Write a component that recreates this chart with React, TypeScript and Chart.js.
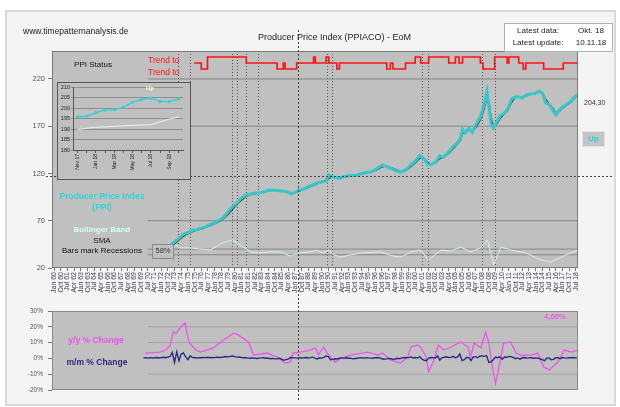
import React, { useEffect, useRef } from "react";
import { Chart, registerables } from "chart.js";

Chart.register(...registerables);

const FONT = "'Liberation Sans', Arial, Helvetica, sans-serif";

// ---------- shared time axis ----------
const X_MIN = 1959.76;
const X_MAX = 2018.75;
const REF_START = 1970.5;
const REF_END = 2018.75;

const X_TICK_FIRST = 1960;
const X_TICK_STEP = 0.75;
const xTickLabels = [
  "Jan 60", "Oct 60", "Jul 61", "Apr 62", "Jan 63", "Oct 63", "Jul 64", "Apr 65",
  "Jan 66", "Oct 66", "Jul 67", "Apr 68", "Jan 69", "Oct 69", "Jul 70", "Apr 71",
  "Jan 72", "Oct 72", "Jul 73", "Apr 74", "Jan 75", "Oct 75", "Jul 76", "Apr 77",
  "Jan 78", "Oct 78", "Jul 79", "Apr 80", "Jan 81", "Oct 81", "Jul 82", "Apr 83",
  "Jan 84", "Oct 84", "Jul 85", "Apr 86", "Jan 87", "Oct 87", "Jul 88", "Apr 89",
  "Jan 90", "Oct 90", "Jul 91", "Apr 92", "Jan 93", "Oct 93", "Jul 94", "Apr 95",
  "Jan 96", "Oct 96", "Jul 97", "Apr 98", "Jan 99", "Oct 99", "Jul 00", "Apr 01",
  "Jan 02", "Oct 02", "Jul 03", "Apr 04", "Jan 05", "Oct 05", "Jul 06", "Apr 07",
  "Jan 08", "Oct 08", "Jul 09", "Apr 10", "Jan 11", "Oct 11", "Jul 12", "Apr 13",
  "Jan 14", "Oct 14", "Jul 15", "Apr 16", "Jan 17", "Oct 17", "Jul 18",
];

// ---------- main chart ----------
const mainYTicks = [20, 70, 120, 170, 220];
const mainRefLevels = [220, 170, 70, 40, 34];
const recessions: [number, number][] = [
  [1973.85, 1975.2],
  [1980.0, 1980.5],
  [1981.55, 1982.85],
  [1990.55, 1991.15],
  [2001.3, 2001.9],
  [2008.0, 2009.45],
];
const crosshair = { year: 1987.3, value: 117 };

const ppiPoints: [number, number][] = [
  [1971.2, 39.5], [1971.5, 39.9], [1972.0, 40.6], [1972.5, 41.6],
  [1973.0, 43.2], [1973.4, 47.0], [1973.7, 49.0], [1974.0, 51.5], [1974.5, 56.0], [1975.0, 57.5],
  [1975.6, 60.0], [1976.0, 60.6], [1976.5, 62.0], [1977.0, 63.8], [1977.5, 66.0], [1978.0, 67.5],
  [1978.5, 70.5], [1979.0, 73.5], [1979.5, 79.5], [1980.0, 85.0], [1980.5, 89.0], [1981.0, 94.0],
  [1981.5, 97.0], [1982.0, 98.0], [1982.5, 99.0], [1983.0, 99.5], [1983.5, 100.5], [1984.0, 102.0],
  [1984.6, 102.5], [1985.0, 102.0], [1985.5, 101.5], [1986.0, 101.0], [1986.6, 98.5], [1987.0, 100.0],
  [1987.5, 102.5], [1988.0, 103.5], [1988.5, 106.0], [1989.0, 108.0], [1989.5, 110.0], [1990.0, 111.0],
  [1990.5, 112.0], [1990.8, 118.5], [1991.2, 116.5], [1991.6, 115.5], [1992.0, 115.0], [1992.5, 116.5],
  [1993.0, 117.5], [1993.5, 118.0], [1994.0, 118.5], [1994.5, 120.0], [1995.0, 121.0], [1995.5, 121.6],
  [1996.0, 124.0], [1996.8, 129.0], [1997.3, 127.0], [1997.8, 125.5], [1998.4, 122.5], [1998.9, 121.5],
  [1999.5, 124.5], [2000.0, 129.0], [2000.5, 133.0], [2001.0, 139.0], [2001.5, 135.0], [2001.9, 129.0],
  [2002.3, 129.5], [2002.8, 132.0], [2003.2, 138.5], [2003.7, 137.5], [2004.2, 142.0], [2004.7, 148.0],
  [2005.2, 152.0], [2005.6, 158.0], [2005.8, 167.0], [2006.1, 163.0], [2006.5, 167.5], [2006.9, 163.5],
  [2007.3, 172.0], [2007.8, 180.0], [2008.2, 192.0], [2008.55, 206.5], [2008.8, 188.0], [2009.0, 172.0],
  [2009.25, 168.0], [2009.6, 174.0], [2010.0, 181.0], [2010.5, 184.0], [2010.9, 189.0], [2011.3, 199.0],
  [2011.7, 201.0], [2012.0, 201.5], [2012.5, 199.5], [2012.9, 203.0], [2013.4, 204.0], [2013.9, 204.5],
  [2014.4, 207.0], [2014.8, 204.5], [2015.1, 195.0], [2015.5, 193.0], [2015.9, 187.0], [2016.3, 182.0],
  [2016.6, 186.5], [2017.0, 190.5], [2017.5, 193.5], [2017.9, 196.0], [2018.3, 200.5], [2018.75, 204.3],
];

const smaPoints: [number, number][] = [
  [1971.2, 39.0], [1971.5, 39.4], [1972.0, 40.1], [1972.5, 41.0],
  [1973.0, 42.2], [1973.4, 44.5], [1973.7, 47.0], [1974.0, 49.5], [1974.5, 53.5], [1975.0, 56.2],
  [1975.6, 58.6], [1976.0, 60.0], [1976.5, 61.2], [1977.0, 62.8], [1977.5, 64.8], [1978.0, 66.6],
  [1978.5, 69.0], [1979.0, 72.0], [1979.5, 76.5], [1980.0, 82.0], [1980.5, 87.0], [1981.0, 91.5],
  [1981.5, 95.5], [1982.0, 97.5], [1982.5, 98.5], [1983.0, 99.2], [1983.5, 100.0], [1984.0, 101.2],
  [1984.6, 102.2], [1985.0, 102.2], [1985.5, 101.8], [1986.0, 101.2], [1986.6, 99.5], [1987.0, 99.4],
  [1987.5, 101.2], [1988.0, 103.0], [1988.5, 105.0], [1989.0, 107.0], [1989.5, 109.2], [1990.0, 110.5],
  [1990.5, 111.5], [1990.8, 114.5], [1991.2, 116.5], [1991.6, 116.0], [1992.0, 115.3], [1992.5, 115.8],
  [1993.0, 117.0], [1993.5, 117.8], [1994.0, 118.3], [1994.5, 119.3], [1995.0, 120.5], [1995.5, 121.3],
  [1996.0, 123.0], [1996.8, 127.0], [1997.3, 127.8], [1997.8, 126.3], [1998.4, 123.8], [1998.9, 122.0],
  [1999.5, 123.2], [2000.0, 127.0], [2000.5, 131.0], [2001.0, 136.0], [2001.5, 136.0], [2001.9, 131.5],
  [2002.3, 129.3], [2002.8, 131.0], [2003.2, 135.5], [2003.7, 137.5], [2004.2, 140.5], [2004.7, 145.5],
  [2005.2, 150.5], [2005.6, 155.5], [2005.8, 162.0], [2006.1, 164.0], [2006.5, 166.0], [2006.9, 165.0],
  [2007.3, 168.5], [2007.8, 176.5], [2008.2, 187.0], [2008.55, 200.0], [2008.8, 195.0], [2009.0, 180.0],
  [2009.25, 170.0], [2009.6, 171.5], [2010.0, 178.0], [2010.5, 183.0], [2010.9, 187.0], [2011.3, 195.0],
  [2011.7, 200.5], [2012.0, 201.3], [2012.5, 200.3], [2012.9, 201.8], [2013.4, 203.6], [2013.9, 204.3],
  [2014.4, 206.0], [2014.8, 205.5], [2015.1, 199.0], [2015.5, 194.0], [2015.9, 189.5], [2016.3, 184.0],
  [2016.6, 185.0], [2017.0, 189.0], [2017.5, 192.5], [2017.9, 195.0], [2018.3, 199.0], [2018.75, 203.0],
];

const bandPoints: [number, number][] = [
  [1971.5, 38.5], [1972.5, 39.5], [1973.35, 46.5], [1974.1, 41.2], [1975.3, 41.2],
  [1977.5, 39], [1978.85, 46.5], [1980.0, 49.6], [1980.9, 44.3], [1982.0, 37], [1983.1, 35.9],
  [1984.25, 37], [1985.4, 37], [1986.5, 32.7], [1987.6, 35.9], [1988.75, 37], [1989.4, 39],
  [1990.1, 35.9], [1990.8, 39], [1991.4, 33.8], [1992.1, 31.6], [1994.4, 35.9], [1996.6, 37],
  [1998.0, 32.7], [1998.9, 31.6], [2000.0, 37], [2001.1, 39], [2002.0, 28.5], [2003.4, 39],
  [2004.5, 38], [2005.6, 42.2], [2006.7, 37], [2007.8, 41.2], [2008.6, 49.6], [2009.3, 23.2],
  [2010.1, 42.2], [2011.2, 39], [2012.9, 35.9], [2014.6, 28.5], [2015.7, 26.3], [2017.4, 33.8],
  [2018.75, 39],
];

// trend level: 1 = up, 0 = sideways, -1 = down (step starts at the given year)
const trendPoints: [number, number][] = [
  [1975.7, 0], [1976.5, -1], [1977.2, 1], [1981.55, 0], [1985.0, -1], [1985.7, 0], [1985.9, -1],
  [1987.2, 0], [1989.1, 1], [1989.3, 0], [1990.5, 1], [1990.8, 0], [1991.7, -1], [1992.0, 0],
  [1997.3, -1], [1997.7, 0], [1998.0, -1], [1999.4, 0], [2000.5, 1], [2001.1, 0], [2002.0, 1],
  [2004.25, 0], [2005.0, 1], [2005.4, 0], [2005.8, 1], [2007.8, 0], [2008.1, -1], [2009.4, 1],
  [2010.8, 0], [2011.0, 1], [2012.1, 0], [2012.6, -1], [2012.9, 0], [2014.9, -1], [2017.1, 0],
  [2018.75, 0],
];

// ---------- bottom chart ----------
const yoyPoints: [number, number][] = [
  [1970.2, 3.4], [1971.0, 3.6], [1971.9, 4.0], [1972.5, 5.3], [1973.0, 8.0], [1973.35, 16.7],
  [1973.7, 16.0], [1974.2, 19.9], [1974.7, 22.4], [1974.9, 16.0], [1975.2, 9.7], [1975.9, 5.3],
  [1976.4, 4.0], [1977.85, 6.6], [1979.0, 11.6], [1980.1, 16.0], [1980.6, 15.0], [1981.8, 10.4],
  [1982.35, 2.1], [1983.9, 3.4], [1985.0, 0.9], [1985.9, -3.0], [1986.5, -2.3], [1986.8, 3.4],
  [1987.6, 4.0], [1988.7, 5.3], [1989.3, 6.6], [1989.65, 2.1], [1990.2, 7.2], [1990.8, 2.1],
  [1991.55, -2.3], [1992.1, 0], [1993.25, 2.1], [1995.15, 4.0], [1996.3, 2.1], [1996.85, 3.4],
  [1997.7, -1.0], [1998.85, -3.0], [1999.65, 0.9], [2000.0, 7.2], [2000.8, 8.5], [2001.1, 7.2],
  [2001.7, 0.9], [2002.0, -8.5], [2002.6, -1.0], [2003.1, 8.5], [2003.7, 5.3], [2004.5, 7.2],
  [2005.6, 10.4], [2006.4, 7.2], [2006.7, 0.9], [2007.1, 9.7], [2007.85, 6.6], [2008.4, 16.7],
  [2008.75, 9.7], [2009.2, -7.3], [2009.5, -15.6], [2009.9, -5.4], [2010.4, 9.7], [2011.2, 10.4],
  [2011.8, 3.4], [2012.35, 2.1], [2013.5, 2.1], [2014.25, 3.4], [2014.9, -5.4], [2015.5, -7.3],
  [2016.5, -2.3], [2017.2, 5.3], [2018.0, 4.0], [2018.75, 5.3],
];

const MOM_START = 1970.0;
const MOM_STEP = 0.25;
const momValues = [
  0.3, 0.4, 0.2, 0.5, 0.3, 0.4, 0.6, 0.3, 0.5, 0.7, 0.4, 0.8,
  1.2, 3.8, -2.5, 4.2, -1.5, 2.8, 3.5, 1.0, -0.8, 1.6, 0.5, 0.6,
  0.3, 0.5, 0.4, 0.6, 0.5, 0.7, 0.4, 0.6, 0.5, 0.8, 0.6, 0.7,
  0.9, 1.2, 1.0, 1.3, 1.5, 1.1, 0.8, 0.9, 0.6, 0.4, 0.5, 0.2,
  0.1, 0.3, 0.2, -0.1, 0.2, 0.3, 0.4, 0.1, 0.2, -0.2, 0.0, -0.3,
  -0.2, 0.1, -0.4, -1.2, -0.8, -0.5, 0.6, 0.4, 0.3, 0.2, 0.5, 0.3,
  0.4, 0.6, 0.3, 0.5, 0.8, 0.2, -0.3, 0.4, 0.2, 0.6, 1.5, 1.2,
  -0.8, -0.6, -0.2, -0.4, 0.1, 0.3, 0.2, 0.4, 0.1, 0.2, -0.3, -0.1,
  0.1, 0.3, 0.4, 0.2, 0.5, 0.3, 0.2, 0.1, 0.4, 0.6, 0.3, -0.2,
  -0.5, -0.3, 0.0, -0.2, -0.6, -0.4, 0.1, -0.2, 0.3, 0.6, 0.4, 0.5,
  0.9, 0.3, 0.6, 0.2, 1.1, -0.5, -1.2, -1.5, 0.2, 0.6, 0.4, 0.3,
  1.6, -1.1, 0.5, 0.7, 1.0, 0.5, 0.8, 1.2, 0.4, 0.9, 2.8, -1.4,
  -0.8, 0.6, 0.5, -1.3, 0.9, 1.1, 0.4, 1.5, 1.6, 1.3, 1.8, -2.6,
  -2.2, -0.9, 0.8, 0.4, 1.0, -0.5, 0.9, 0.7, 1.3, 1.1, 0.5, -0.2,
  0.3, -0.5, 0.4, 0.6, 0.2, 0.3, 0.4, 0.1, 0.3, 0.2, -0.3, -0.8,
  -1.4, 0.2, 0.3, -0.9, -0.6, 0.4, 0.5, -0.2, 0.6, 0.3, 0.2, 0.5,
  0.4, 0.6, 0.3, 0.2,
];
const bottomRefLevels = [20, 10, -10];

// ---------- inset (PPI status, last 12 months) ----------
const insetLabels = [
  "Nov 17", "Dec 17", "Jan 18", "Feb 18", "Mar 18", "Apr 18",
  "May 18", "Jun 18", "Jul 18", "Aug 18", "Sep 18", "Oct 18",
];
const insetValues = [195.8, 196.1, 197.8, 199.0, 199.2, 200.3, 202.8, 204.0, 204.7, 203.1, 203.1, 204.3];
const insetBand = [189.7, 190.4, 190.8, 191.0, 191.3, 191.5, 191.7, 191.9, 192.0, 193.4, 194.7, 195.7];

// ---------- helpers ----------
const toXY = (pts: [number, number][]) => pts.map(([x, y]) => ({ x, y }));
const refLine = (v: number, color: string) => ({
  data: [{ x: REF_START, y: v }, { x: REF_END, y: v }],
  borderColor: color,
  borderWidth: 1,
  pointRadius: 0,
});

function framePlugin(fill: string, stroke: string, full = false) {
  return {
    id: "frame",
    beforeDraw(chart: any) {
      const { ctx, chartArea: a } = chart;
      ctx.save();
      ctx.fillStyle = fill;
      if (full) ctx.fillRect(0, 0, chart.width, chart.height);
      else ctx.fillRect(a.left, a.top, a.right - a.left, a.bottom - a.top);
      ctx.restore();
    },
    afterDraw(chart: any) {
      const { ctx, chartArea: a } = chart;
      ctx.save();
      ctx.strokeStyle = stroke;
      ctx.lineWidth = 1;
      if (full) ctx.strokeRect(0.5, 0.5, chart.width - 1, chart.height - 1);
      else ctx.strokeRect(a.left + 0.5, a.top + 0.5, a.right - a.left - 1, a.bottom - a.top - 1);
      ctx.restore();
    },
  };
}

const recessionPlugin = {
  id: "recessions",
  beforeDatasetsDraw(chart: any) {
    const { ctx, chartArea: a, scales } = chart;
    ctx.save();
    ctx.strokeStyle = "#555";
    ctx.lineWidth = 1;
    ctx.setLineDash([1, 2]);
    recessions.forEach(([s, e]) =>
      [s, e].forEach((v) => {
        const px = Math.round(scales.x.getPixelForValue(v)) + 0.5;
        ctx.beginPath();
        ctx.moveTo(px, a.top);
        ctx.lineTo(px, a.bottom);
        ctx.stroke();
      })
    );
    ctx.restore();
  },
};

const crosshairPlugin = {
  id: "crosshair",
  afterDraw(chart: any) {
    const { ctx, scales } = chart;
    const px = Math.round(scales.x.getPixelForValue(crosshair.year)) + 0.5;
    const py = Math.round(scales.y.getPixelForValue(crosshair.value)) + 0.5;
    ctx.save();
    ctx.strokeStyle = "#444";
    ctx.lineWidth = 1;
    ctx.setLineDash([2, 2]);
    ctx.beginPath();
    ctx.moveTo(px, 30);
    ctx.lineTo(px, 402);
    ctx.moveTo(46, py);
    ctx.lineTo(612, py);
    ctx.stroke();
    ctx.restore();
  },
};

function Txt(props: {
  x: number; y: number; size?: number; color?: string; bold?: boolean;
  anchor?: "start" | "middle" | "end"; children: React.ReactNode;
}) {
  const { x, y, size = 8, color = "#222", bold = false, anchor = "middle", children } = props;
  const tx = anchor === "middle" ? "-50%" : anchor === "end" ? "-100%" : "0";
  return (
    <div
      style={{
        position: "absolute", left: x, top: y, transform: `translate(${tx}, -50%)`,
        fontSize: size, lineHeight: 1, color, fontWeight: bold ? "bold" : "normal",
        whiteSpace: "nowrap", fontFamily: FONT,
      }}
    >
      {children}
    </div>
  );
}

export default function App() {
  const mainRef = useRef<HTMLCanvasElement>(null);
  const bottomRef = useRef<HTMLCanvasElement>(null);
  const insetRef = useRef<HTMLCanvasElement>(null);

  useEffect(() => {
    const charts: Chart[] = [];

    charts.push(
      new Chart(bottomRef.current as HTMLCanvasElement, {
        type: "line",
        data: {
          datasets: [
            {
              data: momValues.map((v, i) => ({ x: MOM_START + i * MOM_STEP, y: v })),
              borderColor: "#2b2b80", borderWidth: 1.4, pointRadius: 0,
            },
            { data: toXY(yoyPoints), borderColor: "#f050f0", borderWidth: 1.3, pointRadius: 0 },
            ...bottomRefLevels.map((v) => refLine(v, "#a2a2a2")),
          ] as any,
        },
        options: {
          responsive: false, animation: false, devicePixelRatio: 1, events: [],
          layout: { padding: { left: 0, right: 42, top: 311, bottom: 17 } },
          plugins: { legend: { display: false }, tooltip: { enabled: false } },
          scales: {
            x: { type: "linear", min: X_MIN, max: X_MAX, display: false },
            y: {
              min: -20, max: 30,
              afterFit: (s: any) => { s.width = 52; },
              ticks: {
                stepSize: 10, font: { size: 6.5, family: FONT }, color: "#555", padding: 5,
                callback: (v: any) => `${v}%`,
              },
              grid: { drawOnChartArea: false, tickLength: 4, color: "#777" },
              border: { display: false },
            },
          },
        } as any,
        plugins: [framePlugin("#c0c0c0", "#8a8a8a")],
      })
    );

    charts.push(
      new Chart(mainRef.current as HTMLCanvasElement, {
        type: "line",
        data: {
          datasets: [
            {
              data: toXY(trendPoints), yAxisID: "y2", stepped: true,
              borderColor: "#ff1010", borderWidth: 1.6, pointRadius: 0,
            },
            { data: toXY(ppiPoints), borderColor: "#36c8c8", borderWidth: 3, pointRadius: 0 },
            { data: toXY(smaPoints), borderColor: "#3a3a3a", borderWidth: 1.2, pointRadius: 0 },
            { data: toXY(bandPoints), borderColor: "#d4f2f2", borderWidth: 1, pointRadius: 0 },
            ...mainRefLevels.map((v) => refLine(v, "#858585")),
          ] as any,
        },
        options: {
          responsive: false, animation: false, devicePixelRatio: 1, events: [],
          layout: { padding: { left: 0, right: 42, top: 51, bottom: 99 } },
          plugins: { legend: { display: false }, tooltip: { enabled: false } },
          scales: {
            x: {
              type: "linear", min: X_MIN, max: X_MAX,
              afterBuildTicks: (s: any) => {
                s.ticks = xTickLabels.map((_, i) => ({ value: X_TICK_FIRST + i * X_TICK_STEP }));
              },
              afterFit: (s: any) => { s.height = 40; },
              ticks: {
                autoSkip: false, minRotation: 90, maxRotation: 90,
                font: { size: 7, family: FONT }, color: "#3c3c50", padding: 1,
                callback: (_v: any, i: number) => xTickLabels[i],
              },
              grid: { drawOnChartArea: false, tickLength: 3, color: "#777" },
              border: { display: false },
            },
            y: {
              min: 20, max: 249.6,
              afterBuildTicks: (s: any) => { s.ticks = mainYTicks.map((v) => ({ value: v })); },
              afterFit: (s: any) => { s.width = 52; },
              ticks: { font: { size: 7.5, family: FONT }, color: "#555", padding: 3, callback: (v: any) => String(v) },
              grid: { drawOnChartArea: false, tickLength: 4, color: "#777" },
              border: { display: false },
            },
            y2: { display: false, min: -34.17, max: 2 },
          },
        } as any,
        plugins: [framePlugin("#c0c0c0", "#7a7a7a"), recessionPlugin, crosshairPlugin],
      })
    );

    charts.push(
      new Chart(insetRef.current as HTMLCanvasElement, {
        type: "line",
        data: {
          labels: insetLabels,
          datasets: [
            {
              data: insetValues, borderColor: "#36d0d0", backgroundColor: "#36d0d0",
              borderWidth: 1.5, pointStyle: "rect", pointRadius: 2, pointBorderWidth: 0,
            },
            { data: insetBand, borderColor: "#e6f6f6", borderWidth: 1, pointRadius: 0 },
          ],
        },
        options: {
          responsive: false, animation: false, devicePixelRatio: 1, events: [],
          layout: { padding: { left: 0, right: 8, top: 5, bottom: 2 } },
          plugins: { legend: { display: false }, tooltip: { enabled: false } },
          scales: {
            x: {
              offset: true,
              afterFit: (s: any) => { s.height = 28; },
              grid: { drawOnChartArea: false, tickLength: 3, color: "#555" },
              border: { color: "#555" },
              ticks: {
                autoSkip: false, minRotation: 90, maxRotation: 90,
                font: { size: 5, family: FONT }, color: "#222", padding: 1,
                callback: (_v: any, i: number) => (i % 2 === 0 ? insetLabels[i] : ""),
              },
            },
            y: {
              min: 180, max: 210,
              afterFit: (s: any) => { s.width = 16; },
              ticks: { stepSize: 5, font: { size: 5.5, family: FONT }, color: "#222", padding: 1 },
              grid: { color: "#8e8e8e", tickLength: 2 },
              border: { color: "#555" },
            },
          },
        } as any,
        plugins: [framePlugin("#c0c0c0", "#555", true)],
      })
    );

    return () => charts.forEach((c) => c.destroy());
  }, []);

  return (
    <div
      style={{
        position: "absolute", left: 0, top: 0, width: 620, height: 407,
        background: "#ffffff", overflow: "hidden", fontFamily: FONT,
      }}
    >
      <div
        style={{
          position: "absolute", left: 5, top: 10, width: 607, height: 392,
          border: "2px solid #d8d8d8", background: "#f4f4f4",
        }}
      />
      <canvas ref={bottomRef} width={620} height={407} style={{ position: "absolute", left: 0, top: 0 }} />
      <canvas ref={mainRef} width={620} height={407} style={{ position: "absolute", left: 0, top: 0 }} />
      <canvas ref={insetRef} width={134} height={98} style={{ position: "absolute", left: 57, top: 82 }} />

      {/* header */}
      <Txt x={23} y={31} size={8.5} anchor="start">www.timepatternanalysis.de</Txt>
      <Txt x={258} y={37} size={9} anchor="start">Producer Price Index (PPIACO) - EoM</Txt>
      <div
        style={{
          position: "absolute", left: 504, top: 23, width: 107, height: 27,
          background: "#ffffff", border: "1px solid #b0b0b0",
        }}
      />
      <Txt x={538} y={31} size={8}>Latest data:</Txt>
      <Txt x={591} y={31} size={8}>Okt. 18</Txt>
      <Txt x={538} y={43} size={8}>Latest update:</Txt>
      <Txt x={591} y={43} size={8}>10.11.18</Txt>

      {/* main chart annotations */}
      <Txt x={93} y={65} size={8} color="#111">PPI Status</Txt>
      <Txt x={148} y={60} size={8.5} color="#ff1010" anchor="start">Trend to</Txt>
      <Txt x={148} y={72} size={8.5} color="#ff1010" anchor="start">Trend to</Txt>
      <Txt x={150} y={88} size={6} color="#ffffc8" bold>Up</Txt>

      <Txt x={102} y={196} size={8.5} color="#30d4d4" bold>Producer Price Index</Txt>
      <Txt x={102} y={207} size={8.5} color="#30d4d4" bold>(PPI)</Txt>
      <Txt x={102} y={230} size={8} color="#d4ffff" bold>Bollinger Band</Txt>
      <Txt x={102} y={241} size={8} color="#111">SMA</Txt>
      <Txt x={102} y={251} size={8} color="#111">Bars mark Recessions</Txt>
      <div
        style={{
          position: "absolute", left: 152, top: 244, width: 20, height: 13,
          border: "1px solid #8a8a8a", background: "#c0c0c0",
        }}
      />
      <Txt x={163} y={251} size={7.5} color="#333">58%</Txt>

      <Txt x={584} y={102} size={7} color="#333" anchor="start">204,30</Txt>
      <div
        style={{
          position: "absolute", left: 582, top: 131, width: 21, height: 14,
          border: "1px solid #e2e2e2", background: "#c4c4c4",
        }}
      />
      <Txt x={593} y={139} size={8} color="#30d4d4" bold>Up</Txt>

      {/* bottom chart annotations */}
      <Txt x={96} y={340} size={8.5} color="#f050f0" bold>y/y % Change</Txt>
      <Txt x={97} y={362} size={8.5} color="#2b2b80" bold>m/m % Change</Txt>
      <Txt x={555} y={317} size={7.5} color="#f050f0" bold>4,60%</Txt>
    </div>
  );
}
